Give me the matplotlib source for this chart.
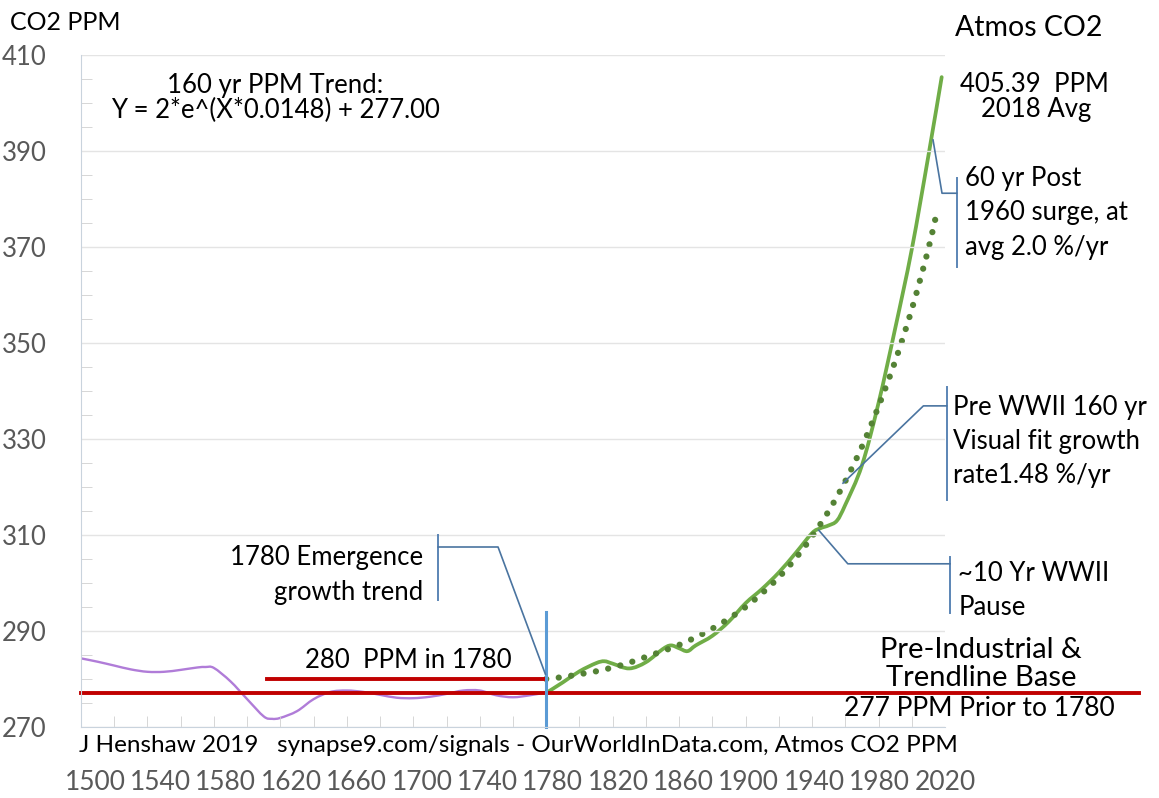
import matplotlib
matplotlib.use("Agg")
import matplotlib.pyplot as plt
from matplotlib.path import Path
from matplotlib.patches import PathPatch
from matplotlib.ticker import MultipleLocator

plt.rcParams['font.family'] = ['Lato', 'DejaVu Sans']

# pre-1780 record (purple)
early_years = [1500, 1510, 1520, 1530, 1540, 1550, 1560, 1570, 1575, 1580,
               1590, 1600, 1610, 1615, 1620, 1630, 1640, 1650, 1660, 1670,
               1680, 1690, 1700, 1710, 1720, 1730, 1740, 1750, 1760, 1770, 1780]
early_ppm = [284.3, 283.6, 282.8, 282.0, 281.5, 281.5, 281.9, 282.4, 282.5, 282.3,
             279.5, 275.8, 272.2, 271.7, 271.9, 273.3, 275.8, 277.3, 277.6, 277.3,
             276.7, 276.1, 276.0, 276.3, 276.9, 277.6, 277.6, 276.6, 276.2, 276.6, 277.2]

# post-1780 record (green)
late_years = [1780, 1790, 1800, 1810, 1815, 1820, 1830, 1840, 1850, 1855,
              1860, 1865, 1870, 1880, 1890, 1900, 1910, 1920, 1930, 1940,
              1945, 1950, 1955, 1960, 1970, 1980, 1990, 2000, 2010, 2018]
late_ppm = [277.1, 279.3, 281.6, 283.3, 283.7, 283.2, 282.2, 283.5, 286.2, 287.0,
            286.4, 285.8, 287.0, 289.0, 292.0, 295.8, 298.8, 302.2, 306.2, 310.4,
            311.4, 312.0, 313.0, 316.3, 324.5, 337.5, 353.0, 369.5, 389.0, 405.39]

# 160 yr exponential trend (dotted)
trend_years = [1780, 1790, 1800, 1810, 1820, 1830, 1840, 1850, 1860, 1870,
               1880, 1890, 1900, 1910, 1920, 1930, 1940, 1950, 1960, 1970,
               1980, 1990, 2000, 2010, 2015]
trend_ppm = [280.0, 280.4, 281.0, 281.6, 282.4, 283.4, 284.6, 285.8, 287.1, 288.7,
             290.5, 292.6, 295.0, 297.9, 301.2, 305.1, 309.7, 315.0, 321.2, 328.4,
             336.8, 346.2, 357.0, 369.6, 377.2]

base_ppm = 277
base_span = [1500, 2137]
ppm_1780 = 280
ppm_1780_span = [1612, 1780]

x_labels = list(range(1500, 2021, 40))
y_labels = list(range(270, 411, 20))


def smooth_path(xs, ys):
    # Excel style smoothed line: catmull-rom segments as cubic beziers
    pts = list(zip(xs, ys))
    verts = [pts[0]]
    codes = [Path.MOVETO]
    n = len(pts)
    for i in range(n - 1):
        p0 = pts[i - 1] if i > 0 else pts[i]
        p1 = pts[i]
        p2 = pts[i + 1]
        p3 = pts[i + 2] if i + 2 < n else pts[i + 1]
        c1 = (p1[0] + (p2[0] - p0[0]) / 6, p1[1] + (p2[1] - p0[1]) / 6)
        c2 = (p2[0] - (p3[0] - p1[0]) / 6, p2[1] - (p3[1] - p1[1]) / 6)
        verts += [c1, c2, p2]
        codes += [Path.CURVE4] * 3
    return Path(verts, codes)


fig = plt.figure(figsize=(11.59, 7.98), dpi=100)
ax = fig.add_axes([81 / 1159, 71 / 798, 864 / 1159, 672 / 798])
ax.set_xlim(1500, 2020)
ax.set_ylim(270, 410)

# labels in the original sit a little right of their years
label_pos = [v + 8.4 * (2020 - v) / 520 for v in x_labels]
ax.set_xticks(label_pos)
ax.set_xticklabels([str(v) for v in x_labels])
ax.xaxis.set_minor_locator(MultipleLocator(20))
ax.set_yticks(y_labels)
ax.yaxis.set_minor_locator(MultipleLocator(5))
ax.tick_params(axis='x', which='major', length=0, labelsize=19,
               labelcolor='#595959', pad=31)
ax.tick_params(axis='x', which='minor', direction='in', length=8, color='#d0d0d0')
ax.tick_params(axis='y', which='major', length=0, labelsize=18.5,
               labelcolor='#595959', pad=25)
ax.tick_params(axis='y', which='minor', direction='in', length=8, color='#d0d0d0')
ax.grid(axis='y', which='major', color='#e4e4e4', lw=1)
for s in ['top', 'right']:
    ax.spines[s].set_visible(False)
for s in ['left', 'bottom']:
    ax.spines[s].set_color('#c9d3dd')

ax.add_patch(PathPatch(smooth_path(early_years, early_ppm), fill=False,
                       edgecolor='#b07cd8', lw=1.7))
ax.add_patch(PathPatch(smooth_path(late_years, late_ppm), fill=False,
                       edgecolor='#70ad47', lw=2.7, capstyle='round'))
ax.add_patch(PathPatch(smooth_path(trend_years, trend_ppm), fill=False,
                       edgecolor='#548235', lw=4.5, linestyle=(0, (0.01, 2.0)),
                       capstyle='round'))
ax.plot(base_span, [base_ppm, base_ppm], color='#c00000', lw=2.8, clip_on=False)
ax.plot(ppm_1780_span, [ppm_1780, ppm_1780], color='#c00000', lw=2.8)
ax.plot([1780, 1780], [270, 294], color='#5b9bd5', lw=2.2, clip_on=False)

# callout leaders
lead = '#4a74a0'
callouts = [
    ([1715, 1715], [310.0, 296.5], [1715, 1751, 1779.5], [307.5, 307.5, 281.0]),
    ([2023, 2023], [305.4, 293.7], [2023, 1961.5, 1944], [304.0, 304.0, 311.0]),
    ([2021, 2021], [340.8, 317.3], [2021, 2007, 1958.6], [336.9, 336.9, 320.8]),
    ([2027, 2027], [384.4, 365.8], [2027, 2018.2, 2012.8], [381.2, 381.2, 392.3]),
]
for bx, by, lx, ly in callouts:
    ax.plot(bx, by, color='#5b85b5', lw=1.4, clip_on=False)
    ax.plot(lx, ly, color=lead, lw=1.2, clip_on=False)

fs = 18.5
ax.text(1617, 403.6, '160 yr PPM Trend:', ha='center', va='center', fontsize=fs)
ax.text(1617, 398.4, 'Y = 2*e^(X*0.0148) + 277.00', ha='center', va='center', fontsize=fs)
ax.text(1706, 305.4, '1780 Emergence', ha='right', va='center', fontsize=fs)
ax.text(1706, 298.1, 'growth trend', ha='right', va='center', fontsize=fs)
ax.text(1697, 283.8, '280  PPM in 1780', ha='center', va='center', fontsize=fs)

ax.text(2032, 384.2, '60 yr Post', ha='left', va='center', fontsize=fs, clip_on=False)
ax.text(2032, 377.1, '1960 surge, at', ha='left', va='center', fontsize=fs, clip_on=False)
ax.text(2032, 370.0, 'avg 2.0 %/yr', ha='left', va='center', fontsize=fs, clip_on=False)
ax.text(2025, 336.5, 'Pre WWII 160 yr', ha='left', va='center', fontsize=fs, clip_on=False)
ax.text(2025, 329.4, 'Visual fit growth', ha='left', va='center', fontsize=fs, clip_on=False)
ax.text(2025, 322.3, 'rate1.48 %/yr', ha='left', va='center', fontsize=fs, clip_on=False)
ax.text(2028, 301.9, '~10 Yr WWII', ha='left', va='center', fontsize=fs, clip_on=False)
ax.text(2028, 294.8, 'Pause', ha='left', va='center', fontsize=fs, clip_on=False)

fig.text(10 / 1159, 1 - 22 / 798, 'CO2 PPM', ha='left', va='center', fontsize=18)
fig.text(1029 / 1159, 1 - 28 / 798, 'Atmos CO2', ha='center', va='center', fontsize=20.5)
fig.text(1034 / 1159, 1 - 85 / 798, '405.39  PPM', ha='center', va='center', fontsize=fs)
fig.text(1036 / 1159, 1 - 110 / 798, '2018 Avg', ha='center', va='center', fontsize=fs)
fig.text(981 / 1159, 1 - 650 / 798, 'Pre-Industrial &', ha='center', va='center', fontsize=21)
fig.text(981 / 1159, 1 - 678 / 798, 'Trendline Base', ha='center', va='center', fontsize=21)
fig.text(979 / 1159, 1 - 709 / 798, '277 PPM Prior to 1780', ha='center', va='center', fontsize=19)
fig.text(79 / 1159, 1 - 746 / 798,
         'J Henshaw 2019   synapse9.com/signals - OurWorldInData.com, Atmos CO2 PPM',
         ha='left', va='center', fontsize=17.5)

fig.savefig('out.png', dpi=100, facecolor='white')
